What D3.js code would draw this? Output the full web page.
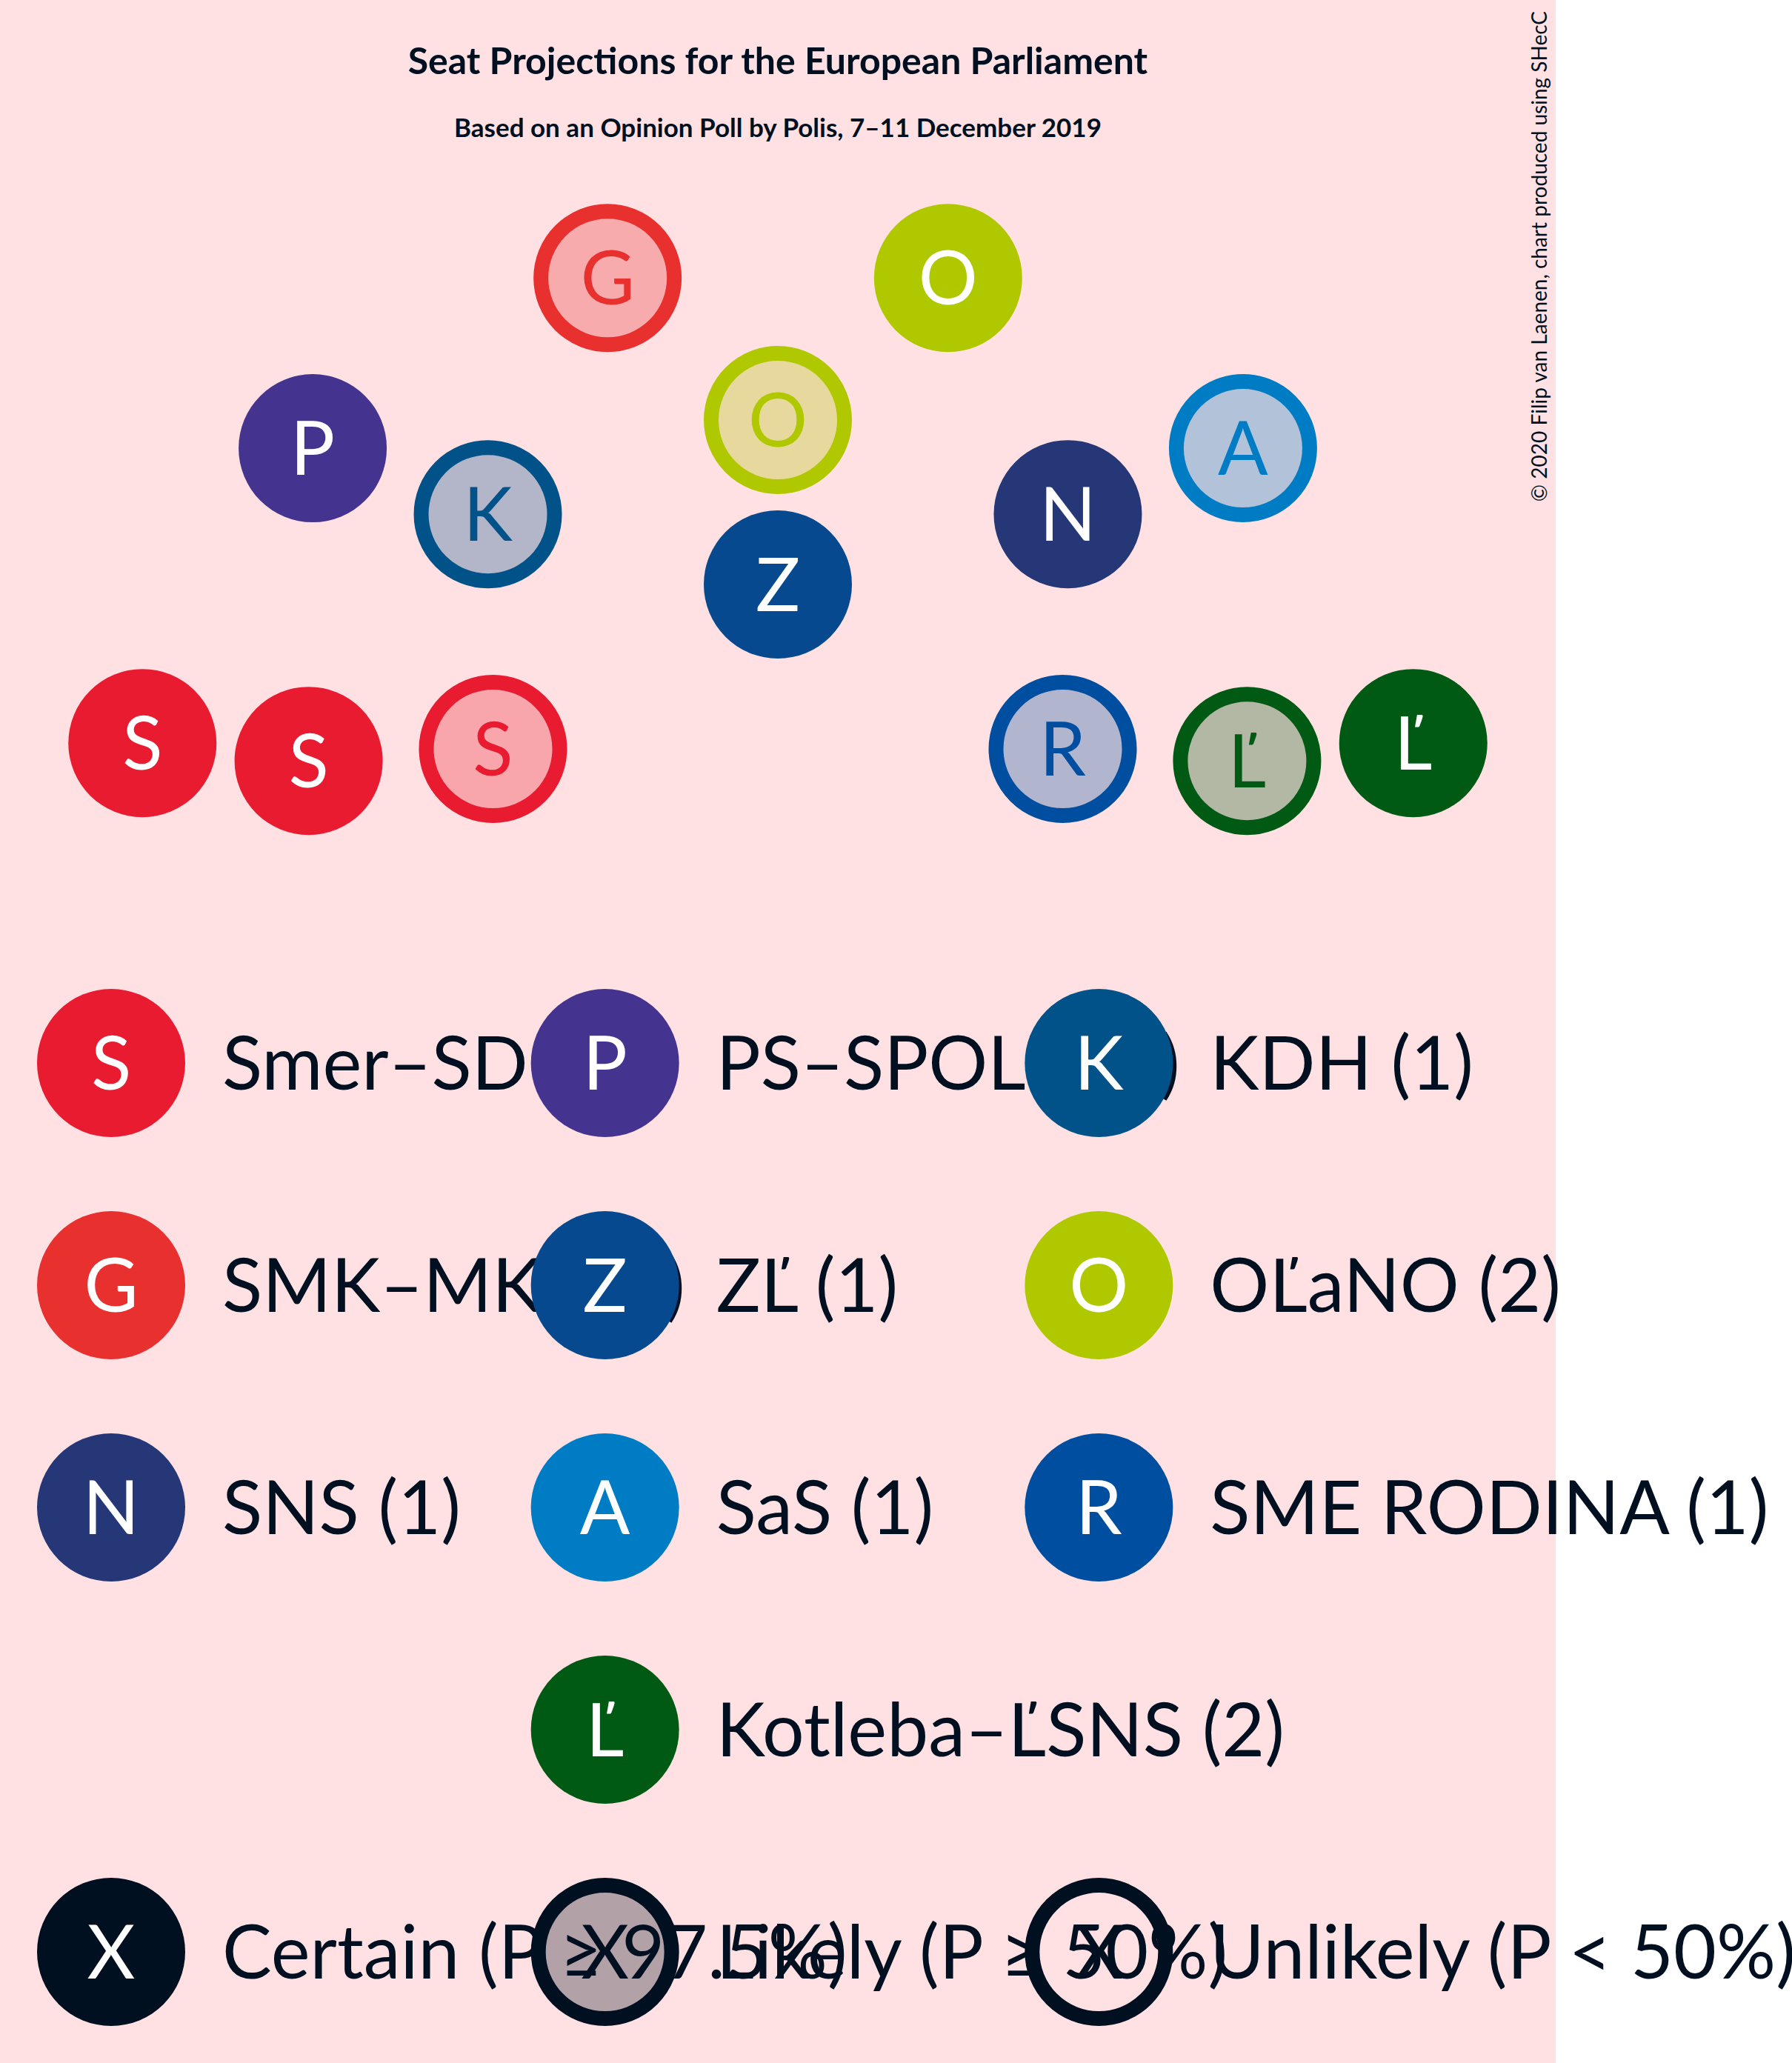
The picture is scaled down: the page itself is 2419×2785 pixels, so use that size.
<!DOCTYPE html>
<html>
<head>
<meta charset="utf-8">
<script src="https://cdn.jsdelivr.net/npm/d3@7"></script>
<style>
  html, body { margin: 0; padding: 0; background: #ffffff; }
  svg { display: block; }
</style>
</head>
<body>
<svg id="chart" width="2419" height="2785"></svg>
<script>
// ---------- data ----------
const title = "Seat Projections for the European Parliament";
const subtitle = "Based on an Opinion Poll by Polis, 7–11 December 2019";
const copyright = "© 2020 Filip van Laenen, chart produced using SHecC";

const parties      = ["Smer–SD", "PS–SPOLU", "KDH", "SMK–MKP", "ZĽ", "OĽaNO", "SNS", "SaS", "SME RODINA", "Kotleba–ĽSNS"];
const letters      = ["S", "P", "K", "G", "Z", "O", "N", "A", "R", "Ľ"];
const seats        = [3, 1, 1, 1, 1, 2, 1, 1, 1, 2];
const certainSeats = [2, 1, 0, 0, 1, 1, 1, 0, 0, 1];
const partyColors  = ["#E81B30", "#45348F", "#02528A", "#E8302F", "#06498E", "#AFC800", "#253776", "#007CC5", "#004EA0", "#005A14"];
// legend slot (row-major, 3 columns) for every party
const legendSlots  = [0, 1, 2, 3, 4, 5, 6, 7, 8, 10];

const statusLabels = ["Certain (P ≥ 97.5%)", "Likely (P ≥ 50%)", "Unlikely (P < 50%)"];
const statusKinds  = ["certain", "likely", "unlikely"];

// hemicycle rows (ring index in units, seats per ring)
const ringUnits = [2, 3, 4];
const ringSeats = [3, 5, 6];

// ---------- styles ----------
const BG = "#FFE1E3";
const DARK = "#011020";
const FONT = "Lato, 'Noto Sans', sans-serif";
const R = 100, SW = 20;

const svg = d3.select("#chart");
svg.append("rect").attr("x", 0).attr("y", 0).attr("width", 2100).attr("height", 2785).attr("fill", BG);

svg.append("text").attr("x", 1050).attr("y", 100).attr("text-anchor", "middle")
  .attr("font-family", FONT).attr("font-weight", 700).attr("font-size", 50).attr("fill", DARK).text(title);
svg.append("text").attr("x", 1050).attr("y", 185).attr("text-anchor", "middle")
  .attr("font-family", FONT).attr("font-weight", 700).attr("font-size", 35).attr("fill", DARK).text(subtitle);
svg.append("text").attr("transform", "translate(2088,15) rotate(-90)").attr("text-anchor", "end")
  .attr("font-family", FONT).attr("font-size", 28).attr("fill", DARK).text(copyright);

// ---------- seat positions ----------
const cx = 1050, cy = 1233, unit = 222;
const radius = d3.scaleLinear().domain([0, 1]).range([0, unit]);
let positions = [];
ringUnits.forEach((u, ri) => {
  const n = ringSeats[ri];
  const ang = d3.scaleLinear().domain([0, n]).range([Math.PI, 0]);
  for (let i = 0; i < n; i++) {
    const a = ang(i + 0.5);
    positions.push({ a: Math.round(a * 1e9) / 1e9, r: radius(u) });
  }
});
positions.sort((p, q) => (q.a - p.a) || (p.r - q.r));

// seats list (certain seats placed toward the outer edges)
const total = d3.sum(seats);
let seatList = [];
let idx = 0;
parties.forEach((p, pi) => {
  const n = seats[pi], c = certainSeats[pi];
  let st = d3.range(n).map(k => k < c ? "certain" : "likely");
  const mid = idx + (n - 1) / 2;
  if (mid > (total - 1) / 2) st.reverse();
  st.forEach(s => seatList.push({ party: pi, status: s }));
  idx += n;
});
seatList.forEach((s, i) => {
  const p = positions[i];
  s.x = cx + p.r * Math.cos(p.a);
  s.y = cy - p.r * Math.sin(p.a);
});

function drawToken(g, x, y, color, letter, kind) {
  if (kind === "certain") {
    g.append("circle").attr("cx", x).attr("cy", y).attr("r", R).attr("fill", color);
  } else {
    g.append("circle").attr("cx", x).attr("cy", y).attr("r", R - SW / 2)
      .attr("fill", kind === "likely" ? color : "none").attr("fill-opacity", 0.3);
    g.append("circle").attr("cx", x).attr("cy", y).attr("r", R - SW / 2)
      .attr("fill", "none").attr("stroke", color).attr("stroke-width", SW);
  }
  g.append("text").attr("x", x).attr("y", y).attr("dy", "0.36em").attr("text-anchor", "middle")
    .attr("font-family", FONT).attr("font-size", 100)
    .attr("fill", kind === "certain" ? "#ffffff" : color).text(letter);
}

const gSeats = svg.append("g");
seatList.forEach(s => drawToken(gSeats, s.x, s.y, partyColors[s.party], letters[s.party], s.status));

// ---------- legend ----------
const colX = d3.scaleLinear().domain([0, 1]).range([150, 150 + 2000 / 3]);
const rowY = d3.scaleLinear().domain([0, 1]).range([1435, 1735]);
const gLeg = svg.append("g");
parties.forEach((p, pi) => {
  const slot = legendSlots[pi];
  const x = colX(slot % 3), y = rowY(Math.floor(slot / 3));
  drawToken(gLeg, x, y, partyColors[pi], letters[pi], "certain");
  gLeg.append("text").attr("x", x + 150).attr("y", y).attr("dy", "0.36em")
    .attr("font-family", FONT).attr("font-size", 100).attr("fill", DARK)
    .text(`${p} (${seats[pi]})`);
});
const statusRow = 4;
statusKinds.forEach((k, i) => drawToken(gLeg, colX(i), rowY(statusRow), DARK, "X", k));
statusLabels.forEach((l, i) => {
  gLeg.append("text").attr("x", colX(i) + 150).attr("y", rowY(statusRow)).attr("dy", "0.36em")
    .attr("font-family", FONT).attr("font-size", 100).attr("fill", DARK).text(l);
});
</script>
</body>
</html>
